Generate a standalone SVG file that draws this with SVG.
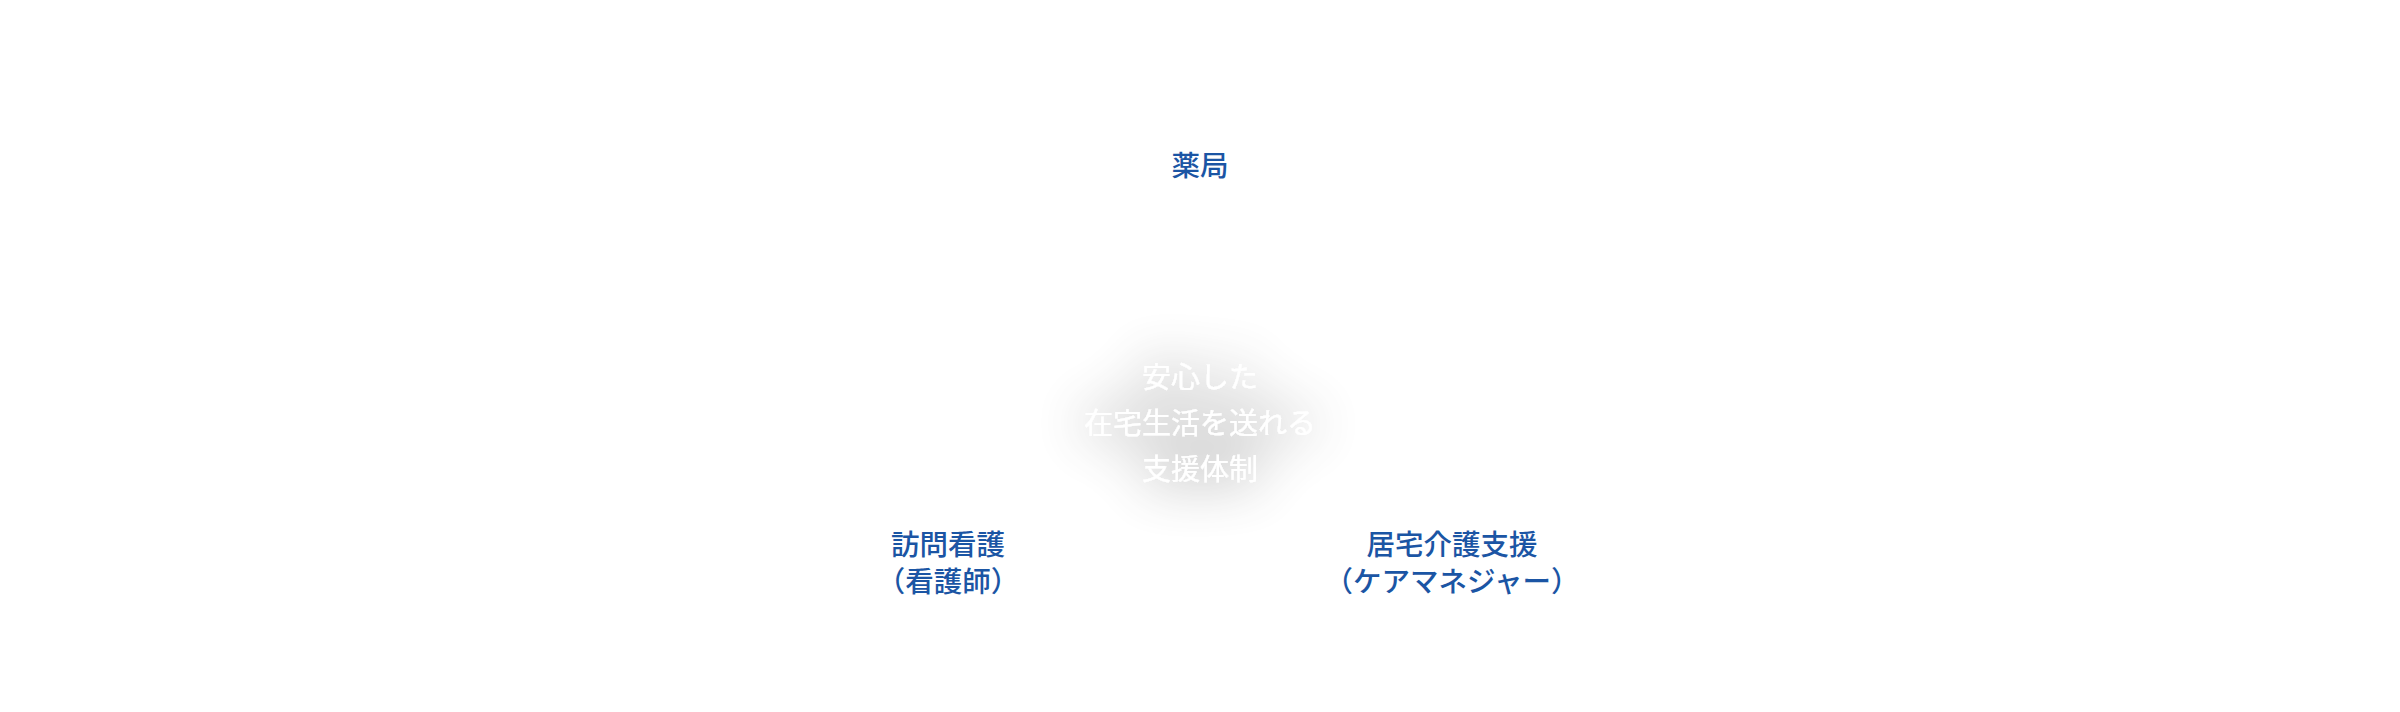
<svg xmlns="http://www.w3.org/2000/svg" width="2400" height="712" viewBox="0 0 2400 712">
  <defs>
    <style>
      .lbl { font-family: "Noto Sans CJK JP", "Noto Sans CJK SC", sans-serif; font-size: 28.5px; font-weight: 500; fill: #1b55a4; text-anchor: middle; }
      .core { font-family: "Noto Sans CJK JP", "Noto Sans CJK SC", sans-serif; font-size: 29px; font-weight: 400; fill: #ffffff; text-anchor: middle; }
    </style>
    <filter id="glow" x="-60%" y="-100%" width="220%" height="300%">
      <feGaussianBlur in="SourceAlpha" stdDeviation="28" result="b"/>
      <feComponentTransfer in="b" result="a">
        <feFuncA type="linear" slope="0.75"/>
      </feComponentTransfer>
      <feFlood flood-color="#000000"/>
      <feComposite in2="a" operator="in" result="sh"/>
      <feMerge>
        <feMergeNode in="sh"/>
        <feMergeNode in="SourceGraphic"/>
      </feMerge>
    </filter>
  </defs>
  <rect width="2400" height="712" fill="#ffffff"/>
  <g id="connectors"></g>
  <g id="node-center" filter="url(#glow)">
    <text class="core" x="1200" y="388">安心した</text>
    <text class="core" x="1200" y="434">在宅生活を送れる</text>
    <text class="core" x="1200" y="480">支援体制</text>
  </g>
  <g id="node-pharmacy">
    <text class="lbl" x="1200" y="176">薬局</text>
  </g>
  <g id="node-nursing">
    <text class="lbl" x="948" y="555">訪問看護</text>
    <text class="lbl" x="948" y="592">（看護師）</text>
  </g>
  <g id="node-care">
    <text class="lbl" x="1452" y="555">居宅介護支援</text>
    <text class="lbl" x="1452" y="592">（ケアマネジャー）</text>
  </g>
</svg>
